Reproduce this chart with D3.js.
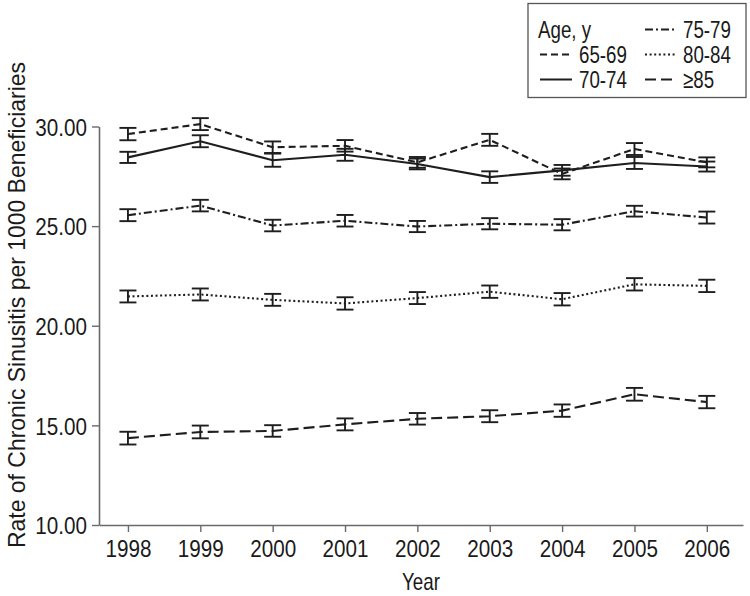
<!DOCTYPE html>
<html>
<head>
<meta charset="utf-8">
<script src="https://cdn.jsdelivr.net/npm/d3@7/dist/d3.min.js"></script>
<style>
  html, body { margin: 0; padding: 0; background: #fff; }
  svg { display: block; }
  text { font-family: "Liberation Sans", Arial, sans-serif; fill: #1a1a1a; }
</style>
</head>
<body>
<svg id="chart" width="750" height="596"></svg>
<script>
const years = [1998, 1999, 2000, 2001, 2002, 2003, 2004, 2005, 2006];
const yTicks = [10, 15, 20, 25, 30];

const seriesNames = ["65-69", "70-74", "75-79", "80-84", "≥85"];
const values6569 = [29.62, 30.12, 28.96, 29.03, 28.20, 29.33, 27.62, 28.87, 28.20];
const values7074 = [28.45, 29.26, 28.31, 28.58, 28.12, 27.46, 27.80, 28.17, 27.99];
const values7579 = [25.55, 26.03, 25.03, 25.27, 24.98, 25.12, 25.07, 25.75, 25.43];
const values8084 = [21.47, 21.57, 21.30, 21.12, 21.39, 21.71, 21.33, 22.08, 22.00];
const values85   = [14.36, 14.67, 14.72, 15.05, 15.33, 15.46, 15.74, 16.56, 16.17];
const errors6569 = [0.31, 0.30, 0.29, 0.29, 0.27, 0.30, 0.27, 0.30, 0.25];
const errors7074 = [0.28, 0.30, 0.33, 0.30, 0.27, 0.29, 0.27, 0.30, 0.25];
const errors7579 = [0.30, 0.29, 0.29, 0.29, 0.28, 0.28, 0.28, 0.27, 0.30];
const errors8084 = [0.30, 0.30, 0.30, 0.31, 0.30, 0.31, 0.31, 0.31, 0.31];
const errors85   = [0.32, 0.32, 0.29, 0.30, 0.29, 0.30, 0.31, 0.32, 0.31];

const seriesValues = [values6569, values7074, values7579, values8084, values85];
const seriesErrors = [errors6569, errors7074, errors7579, errors8084, errors85];
const dashPatterns = ["7,4", null, "8,3,2,3", "2,2.6", "11,5"];

const svg = d3.select("#chart");
const x = d3.scaleLinear().domain([1997.6, 2006.5]).range([99, 743]);
const y = d3.scaleLinear().domain([10, 30]).range([525, 126.5]);

const ink = "#1e1e1e";
const axisColor = "#6a6a6a";
const fontSize = 24;

// Axes
const yAxis = svg.append("g").attr("transform", `translate(${x(1997.6)},0)`)
  .call(d3.axisLeft(y).tickValues(yTicks).tickFormat(d3.format(".2f")).tickSize(7).tickSizeOuter(0).tickPadding(5));
const xAxis = svg.append("g").attr("transform", `translate(0,${y(10)})`)
  .call(d3.axisBottom(x).tickValues(years).tickFormat(d3.format("d")).tickSize(7).tickSizeOuter(0).tickPadding(8));
[yAxis, xAxis].forEach(g => {
  g.selectAll("path.domain").attr("stroke", axisColor).attr("stroke-width", 1.6);
  g.selectAll(".tick line").attr("stroke", axisColor).attr("stroke-width", 1.4);
  g.selectAll(".tick text").attr("font-size", fontSize).attr("fill", "#1a1a1a").attr("class", "tickl")
    .attr("font-family", '"Liberation Sans", Arial, sans-serif');
});
yAxis.selectAll(".tickl").attr("dy", "0.36em");
xAxis.selectAll(".tickl").attr("dy", "0.70em");

// Axis titles
svg.append("text").attr("x", 421).attr("y", 590).attr("text-anchor", "middle")
  .attr("font-size", fontSize).text("Year");
svg.append("text").attr("class", "ylab").attr("transform", "translate(25,305) rotate(-90)").attr("text-anchor", "middle")
  .attr("font-size", fontSize).text("Rate of Chronic Sinusitis per 1000 Beneficiaries");

// Lines and error bars
const line = d3.line().x((d, i) => x(years[i])).y(d => y(d));
const capW = 8.5;
seriesValues.forEach((vals, s) => {
  const errs = seriesErrors[s];
  const g = svg.append("g");
  g.append("path").datum(vals).attr("d", line).attr("fill", "none")
    .attr("stroke", ink).attr("stroke-width", 2.1)
    .attr("stroke-dasharray", dashPatterns[s]);
  const eb = g.selectAll("g.eb").data(vals).join("g");
  eb.append("line").attr("x1", (d, i) => x(years[i])).attr("x2", (d, i) => x(years[i]))
    .attr("y1", (d, i) => y(d - errs[i])).attr("y2", (d, i) => y(d + errs[i]))
    .attr("stroke", ink).attr("stroke-width", 1.9);
  [-1, 1].forEach(sign => {
    eb.append("line").attr("x1", (d, i) => x(years[i]) - capW).attr("x2", (d, i) => x(years[i]) + capW)
      .attr("y1", (d, i) => y(d + sign * errs[i])).attr("y2", (d, i) => y(d + sign * errs[i]))
      .attr("stroke", ink).attr("stroke-width", 1.9);
  });
});

// Legend
const lg = svg.append("g");
lg.append("rect").attr("x", 528).attr("y", 3.5).attr("width", 218).attr("height", 94)
  .attr("fill", "#fff").attr("stroke", "#555").attr("stroke-width", 1.3);
lg.append("text").attr("x", 538).attr("y", 38).attr("font-size", fontSize).text("Age, y");
const legendPos = [
  {lx: 540, tx: 579, y: 54.5},
  {lx: 540, tx: 579, y: 79.5},
  {lx: 645, tx: 683, y: 29.5},
  {lx: 645, tx: 683, y: 54.5},
  {lx: 645, tx: 683, y: 79.5}
];
seriesNames.forEach((name, s) => {
  const p = legendPos[s];
  lg.append("line").attr("x1", p.lx).attr("x2", p.lx + 32).attr("y1", p.y).attr("y2", p.y)
    .attr("stroke", ink).attr("stroke-width", 2).attr("stroke-dasharray", dashPatterns[s]);
  lg.append("text").attr("x", p.tx).attr("y", p.y + 8.5).attr("font-size", fontSize).text(name);
});

// Condense all text to mimic the narrow typeface of the reference
svg.selectAll("text").each(function() {
  const sel = d3.select(this);
  const w = this.getComputedTextLength();
  let len;
  if (sel.classed("ylab")) len = 486;
  else if (sel.classed("tickl")) len = w * 0.86;
  else len = w * 0.78;
  sel.attr("textLength", len).attr("lengthAdjust", "spacingAndGlyphs");
});
</script>
</body>
</html>
